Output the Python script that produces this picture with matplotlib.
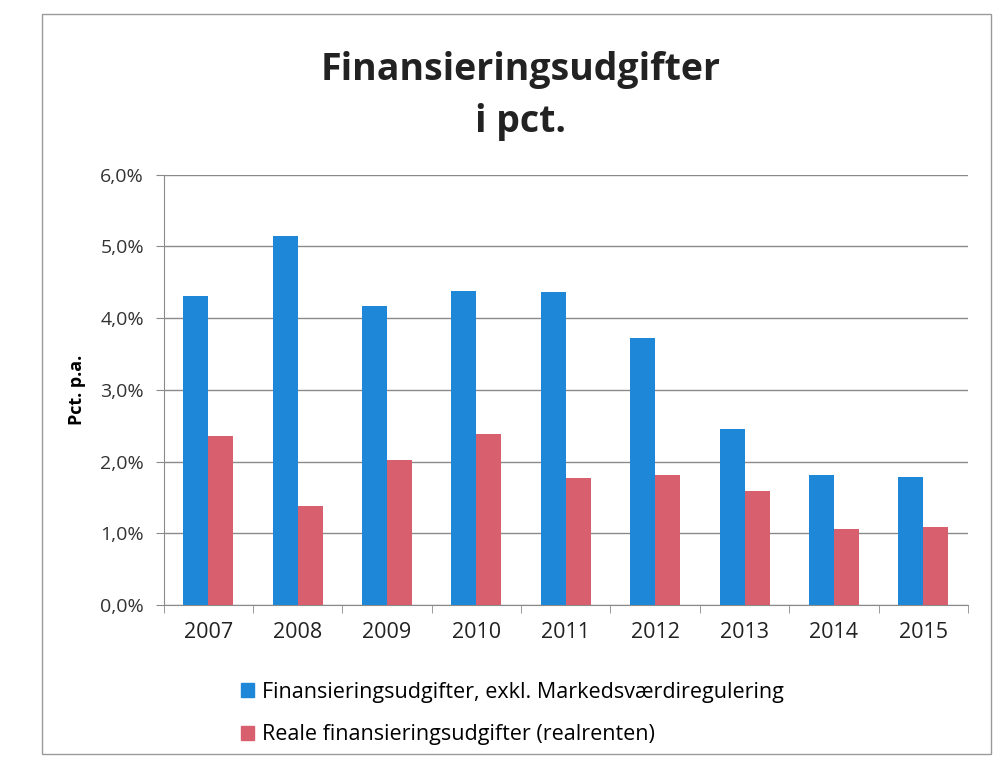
import matplotlib.pyplot as plt
import numpy as np
from matplotlib.patches import Rectangle, Patch

# data (pct. p.a.)
years = ["2007", "2008", "2009", "2010", "2011", "2012", "2013", "2014", "2015"]
nominal = [4.31, 5.14, 4.17, 4.38, 4.37, 3.72, 2.45, 1.81, 1.79]
real = [2.36, 1.39, 2.03, 2.39, 1.77, 1.82, 1.59, 1.06, 1.09]
yticks = [0, 1, 2, 3, 4, 5, 6]

label_nom = "Finansieringsudgifter, exkl. Markedsværdiregulering"
label_real = "Reale finansieringsudgifter (realrenten)"
blue = "#1f87d8"
red = "#d8606e"
grey = "#8a8a8a"

plt.rcParams["font.family"] = ["Open Sans", "DejaVu Sans"]

fig = plt.figure(figsize=(9.97, 7.73), dpi=100)
ax = fig.add_axes([0.164, 0.217, 0.807, 0.557])

# chart area frame
fig.patches.append(Rectangle((0.042, 0.024), 0.952, 0.958, transform=fig.transFigure,
                             fill=False, edgecolor="#9a9a9a", linewidth=1.0))

x = np.arange(len(years))
w = 0.28
ax.bar(x - w / 2, nominal, width=w, color=blue, zorder=3)
ax.bar(x + w / 2, real, width=w, color=red, zorder=3)

ax.set_xlim(-0.5, len(years) - 0.5)
ax.set_ylim(0, 6)
ax.set_yticks(yticks)
ax.set_yticklabels([f"{v:.1f}%".replace(".", ",") for v in yticks], fontsize=14, color="#333333")
ax.yaxis.grid(True, color=grey, linewidth=1.0, zorder=0)

ax.set_xticks(x)
ax.set_xticklabels(years, fontsize=15.5, color="#222222")
ax.tick_params(axis="x", length=0, pad=12)
ax.set_xticks(np.arange(len(years) + 1) - 0.5, minor=True)
ax.tick_params(axis="x", which="minor", length=6, color=grey)
ax.tick_params(axis="y", length=6, color=grey, pad=8)

for s in ["top", "right"]:
    ax.spines[s].set_visible(False)
for s in ["left", "bottom"]:
    ax.spines[s].set_color(grey)

ax.set_ylabel("Pct. p.a.", fontsize=13, fontweight="bold", labelpad=10)

fig.text(0.522, 0.91, "Finansieringsudgifter", ha="center", va="center",
         fontsize=27, fontweight="bold", color="#222222")
fig.text(0.522, 0.842, "i pct.", ha="center", va="center",
         fontsize=27, fontweight="bold", color="#222222")

handles = [Patch(color=blue, label=label_nom), Patch(color=red, label=label_real)]
fig.legend(handles=handles, loc="upper left", bbox_to_anchor=(0.222, 0.143),
           frameon=False, fontsize=15.5, handlelength=0.6, handleheight=0.6,
           handletextpad=0.4, labelspacing=1.0)

fig.savefig("out.png", dpi=100)
